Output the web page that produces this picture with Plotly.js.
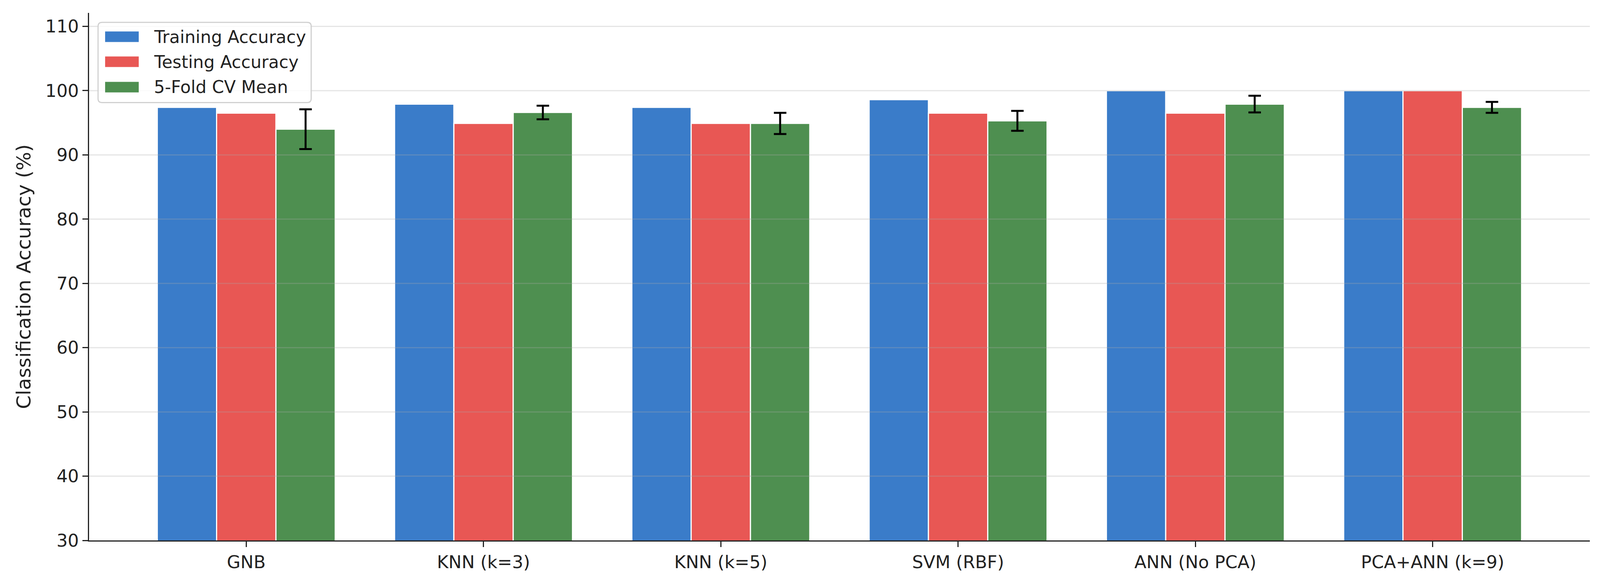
<!DOCTYPE html>
<html>
<head>
<meta charset="utf-8">
<script src="https://cdn.plot.ly/plotly-3.0.1.min.js"></script>
<style>html,body{margin:0;padding:0;background:#fff;}#chart{width:4117px;height:1492px;}</style>
</head>
<body>
<div id="chart"></div>
<script>
const models = ["GNB", "KNN (k=3)", "KNN (k=5)", "SVM (RBF)", "ANN (No PCA)", "PCA+ANN (k=9)"];
const seriesNames = ["Training Accuracy", "Testing Accuracy", "5-Fold CV Mean"];
const trainAcc = [97.4, 97.9, 97.4, 98.6, 100.0, 100.0];
const testAcc = [96.5, 94.9, 94.9, 96.5, 96.5, 100.0];
const cvMean = [94.0, 96.6, 94.9, 95.3, 97.9, 97.4];
const cvStd = [3.1, 1.05, 1.65, 1.55, 1.3, 0.85];
const yTicks = [30, 40, 50, 60, 70, 80, 90, 100, 110];
const colors = ["#3a7cc9", "#e85754", "#4e8f50"];

const FONT = "DejaVu Sans, sans-serif";
const INK = "#222222";
const values = [trainAcc, testAcc, cvMean];

const traces = values.map((v, i) => {
  const t = {
    type: "bar",
    name: seriesNames[i],
    x: models,
    y: v,
    marker: {color: colors[i], line: {color: "#ffffff", width: 3}},
    showlegend: false
  };
  if (i === 2) {
    t.error_y = {type: "data", array: cvStd, visible: true, color: "#000000", thickness: 5, width: 16};
  }
  return t;
});

// gridlines drawn above bars (semi-transparent, as in reference)
const shapes = yTicks.filter(v => v > 30).map(v => ({
  type: "line", xref: "paper", yref: "y", x0: 0, x1: 1, y0: v, y1: v,
  line: {color: "rgba(170,170,170,0.3)", width: 3}, layer: "above"
}));

// custom legend
const lgX0 = 0.006, lgX1 = 0.148, lgY1 = 0.982, lgY0 = 0.830;
const rx = 10 / 3842, ry = 10 / 1350;
shapes.push({
  type: "path", xref: "paper", yref: "paper",
  path: `M ${lgX0 + rx},${lgY1} L ${lgX1 - rx},${lgY1} Q ${lgX1},${lgY1} ${lgX1},${lgY1 - ry} L ${lgX1},${lgY0 + ry} Q ${lgX1},${lgY0} ${lgX1 - rx},${lgY0} L ${lgX0 + rx},${lgY0} Q ${lgX0},${lgY0} ${lgX0},${lgY0 + ry} L ${lgX0},${lgY1 - ry} Q ${lgX0},${lgY1} ${lgX0 + rx},${lgY1} Z`,
  fillcolor: "rgba(255,255,255,0.8)", line: {color: "rgba(204,204,204,0.9)", width: 3}, layer: "above"
});
const rowY = [0.9548, 0.9074, 0.8593];
const annotations = [];
seriesNames.forEach((n, i) => {
  shapes.push({
    type: "rect", xref: "paper", yref: "paper",
    x0: 0.0107, x1: 0.0331, y0: rowY[i] - 13.5 / 1350, y1: rowY[i] + 13.5 / 1350,
    fillcolor: colors[i], line: {width: 0}, layer: "above"
  });
  annotations.push({
    xref: "paper", yref: "paper", x: 0.0427, y: rowY[i], xanchor: "left", yanchor: "middle",
    text: n, showarrow: false, font: {family: FONT, size: 44, color: INK}
  });
});

const layout = {
  width: 4117, height: 1492,
  margin: {l: 228, r: 47, t: 33, b: 109, pad: 0},
  paper_bgcolor: "#ffffff", plot_bgcolor: "#ffffff",
  font: {family: FONT, size: 45, color: INK},
  barmode: "group", bargap: 0.25, bargroupgap: 0,
  showlegend: false,
  xaxis: {
    type: "category", range: [-0.6625, 5.6625],
    showline: true, linecolor: INK, linewidth: 3,
    ticks: "outside", ticklen: 14, tickwidth: 3, tickcolor: INK,
    showgrid: false, zeroline: false,
    tickfont: {family: FONT, size: 45, color: INK}
  },
  yaxis: {
    range: [30, 112.1], tickvals: yTicks, ticktext: yTicks.map(String),
    showline: true, linecolor: INK, linewidth: 3,
    ticks: "outside", ticklen: 14, tickwidth: 3, tickcolor: INK,
    showgrid: false, zeroline: false,
    tickfont: {family: FONT, size: 45, color: INK},
    title: {text: "Classification Accuracy (%)", font: {family: FONT, size: 50, color: INK}, standoff: 22}
  },
  shapes: shapes,
  annotations: annotations
};

Plotly.newPlot("chart", traces, layout, {displayModeBar: false, staticPlot: true});
</script>
</body>
</html>
